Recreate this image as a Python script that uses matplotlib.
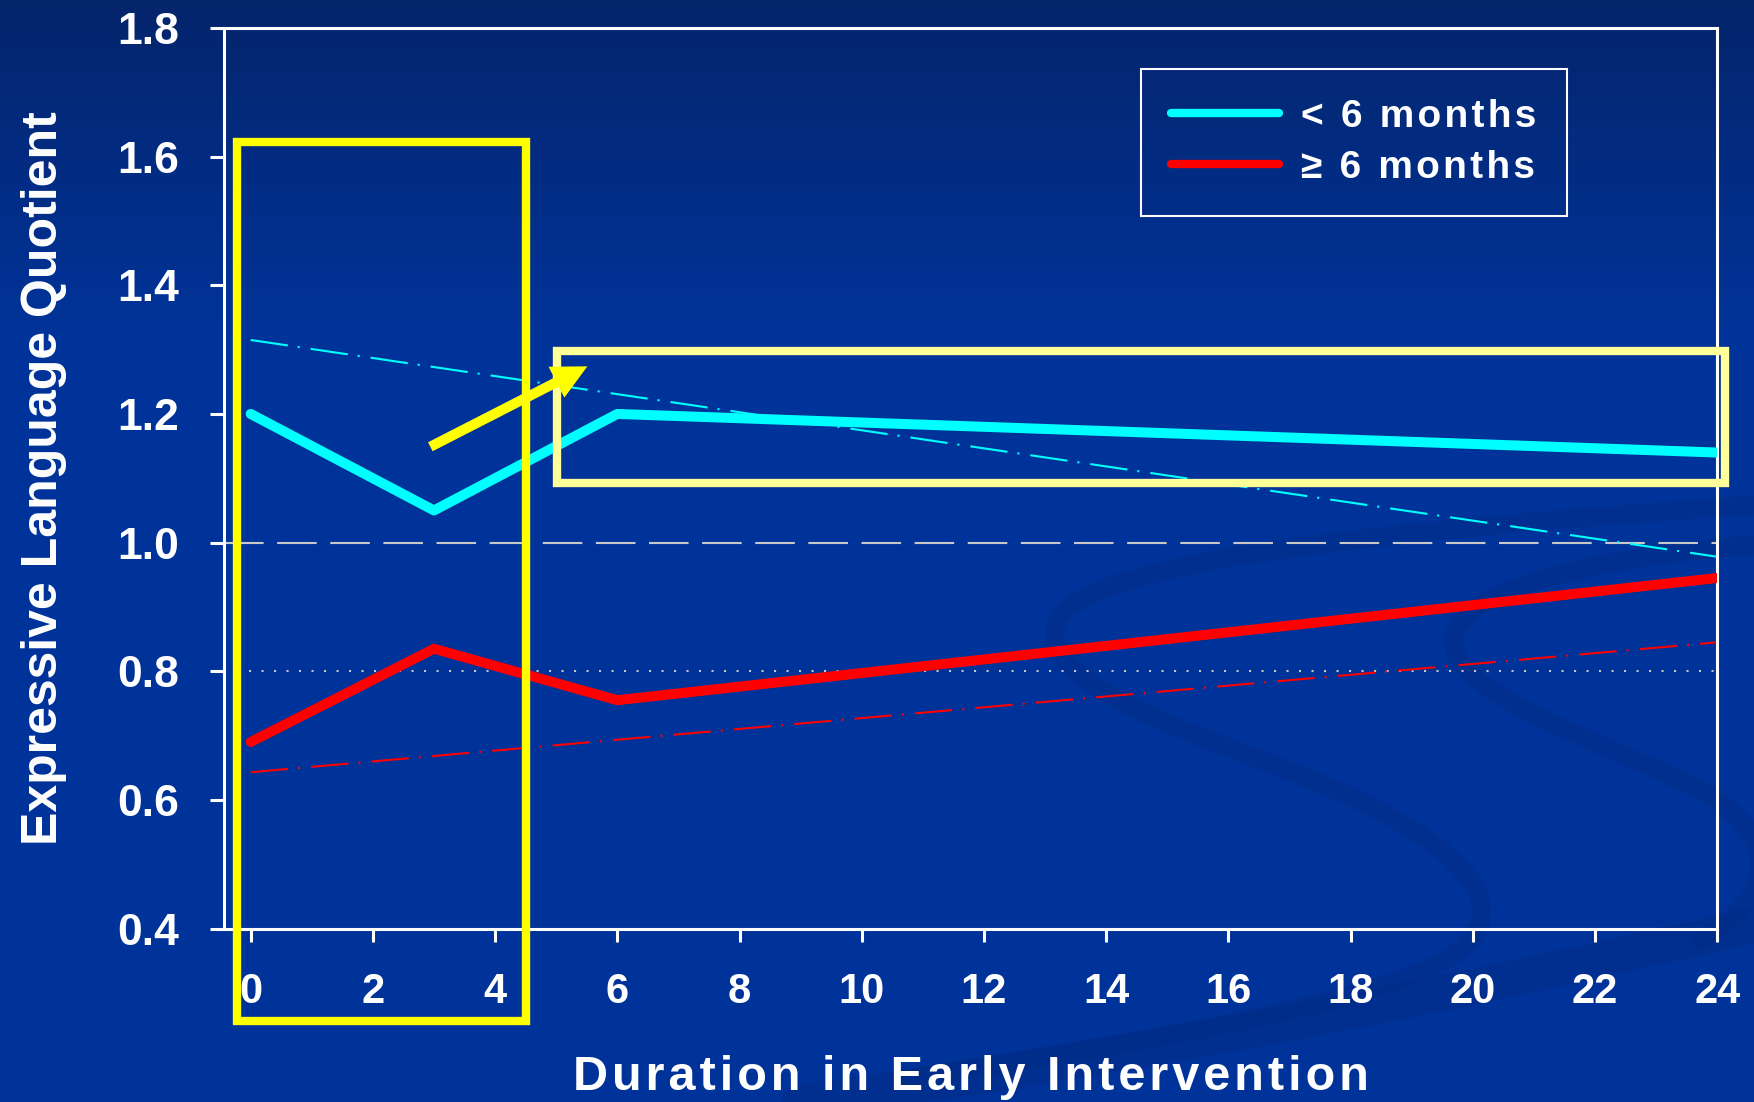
import numpy as np
import matplotlib.pyplot as plt
from matplotlib.path import Path
from matplotlib.patches import PathPatch, Rectangle, FancyArrowPatch
from matplotlib.colors import LinearSegmentedColormap
from matplotlib.lines import Line2D

# months in early intervention and expressive language quotient
months = [0, 3, 6, 24]
elq_under6 = [1.20, 1.05, 1.20, 1.14]
elq_over6 = [0.69, 0.835, 0.755, 0.945]

# linear trends (end points)
trend_months = [0, 24]
trend_under6 = [1.315, 0.978]
trend_over6 = [0.643, 0.845]

x_ticks = list(range(0, 25, 2))
y_ticks = [0.4, 0.6, 0.8, 1.0, 1.2, 1.4, 1.6, 1.8]
y_tick_labels = ['0.4', '0.6', '0.8', '1.0', '1.2', '1.4', '1.6', '1.8']

legend_labels = ['< 6 months', '\u2265 6 months']
xlabel = 'Duration in Early Intervention'
ylabel = 'Expressive Language Quotient'

# highlight boxes / arrow (data units)
box_start = (-0.22, 0.256, 4.72, 1.367)   # x, y, w, h
box_plateau = (5.01, 1.093, 19.12, 0.205)
arrow_tail = (2.94, 1.149)
arrow_tip = (5.51, 1.274)


def spaced(s, gap='\u200a'):
    # poor man's letter spacing
    return gap.join(s)


plt.rcParams['font.family'] = ['Liberation Sans', 'DejaVu Sans']
plt.rcParams['font.weight'] = 'bold'

W, H = 1754, 1102
fig = plt.figure(figsize=(W / 100, H / 100), dpi=100)

# background: dark navy at the top fading into royal blue
bg = fig.add_axes([0, 0, 1, 1], zorder=-10)
bg.set_axis_off()
cmap = LinearSegmentedColormap.from_list(
    'slide', [(0, '#05256c'), (0.30, '#003399'), (1, '#003399')])
grad = np.linspace(0, 1, 256).reshape(-1, 1)
bg.imshow(grad, aspect='auto', cmap=cmap, extent=[0, W, H, 0])
bg.set_xlim(0, W)
bg.set_ylim(H, 0)

# faint swirl ribbons in the lower right
swirls = [
    ([(1754, 505), (1400, 530), (1060, 560), (1055, 630),
      (1050, 690), (1200, 735), (1300, 775),
      (1450, 835), (1520, 900), (1460, 950),
      (1400, 1000), (1150, 1040), (900, 1080)], 14),
    ([(1754, 545), (1560, 560), (1440, 600), (1455, 650),
      (1470, 700), (1600, 740), (1700, 790),
      (1790, 840), (1770, 900), (1700, 940)], 14),
    ([(800, 1102), (1150, 1055), (1450, 995), (1754, 925)], 26),
]
for pts, width in swirls:
    codes = [Path.MOVETO] + [Path.CURVE4] * (len(pts) - 1)
    bg.add_patch(PathPatch(Path(pts, codes), facecolor='none',
                           edgecolor='#002a80', lw=width, alpha=0.35,
                           capstyle='round'))

ax = fig.add_axes([0.1276, 0.1574, 0.8514, 0.8172])
ax.set_facecolor('none')

# reference levels
ax.axhline(1.0, color='#c8c8c8', lw=1.5, dashes=(19, 6.5), zorder=1)
ax.axhline(0.8, color='#c8c8c8', lw=1.5, dashes=(1, 5), zorder=1)

# trend lines
ax.plot(trend_months, trend_under6, color='#00ffff', lw=1.5,
        dashes=(18, 4.8, 1, 5.3), zorder=2)
ax.plot(trend_months, trend_over6, color='#ff0000', lw=1.5,
        dashes=(18, 4.8, 1, 5.3), zorder=2)

ax.plot(months, elq_under6, color='#00ffff', lw=7.2,
        solid_capstyle='round', zorder=3)
ax.plot(months, elq_over6, color='#ff0000', lw=7.2,
        solid_capstyle='round', zorder=3)

ax.set_xlim(-0.44, 24)
ax.set_ylim(0.4, 1.8)
ax.set_xticks(x_ticks)
ax.set_xticklabels([str(v) for v in x_ticks],
                   family=['Liberation Sans Narrow', 'Liberation Sans'],
                   fontsize=30, fontweight='bold', color='white')
ax.set_yticks(y_ticks)
ax.set_yticklabels(y_tick_labels, fontsize=32, fontweight='bold',
                   color='white')
ax.tick_params(axis='x', direction='out', length=9, width=2.2,
               color='white', pad=22)
ax.tick_params(axis='y', direction='out', length=10, width=2.2,
               color='white', pad=22)
for sp in ax.spines.values():
    sp.set_color('white')
    sp.set_linewidth(2.2)

ax.set_xlabel(spaced(xlabel), fontsize=35, fontweight='bold',
              color='white', labelpad=31)
ax.set_ylabel(ylabel, fontsize=36, fontweight='bold', color='white',
              labelpad=36)

handles = [Line2D([], [], color='#00ffff', lw=6, solid_capstyle='round'),
           Line2D([], [], color='#ff0000', lw=6, solid_capstyle='round')]
leg = ax.legend(handles, [spaced(s) for s in legend_labels],
                loc='upper left', bbox_to_anchor=(0.614, 0.9545),
                fontsize=28, handlelength=2.78, handletextpad=0.58,
                labelspacing=0.39, borderpad=0.77, borderaxespad=0,
                fancybox=False, framealpha=1, facecolor='none',
                edgecolor='white')
leg.get_frame().set_linewidth(1.5)
for t in leg.get_texts():
    t.set_color('white')
    t.set_fontweight('bold')

# highlight boxes and arrow
ax.add_patch(Rectangle(box_start[:2], box_start[2], box_start[3],
                       fill=False, edgecolor='#ffff00', lw=6,
                       clip_on=False, zorder=5, joinstyle='miter'))
ax.add_patch(Rectangle(box_plateau[:2], box_plateau[2], box_plateau[3],
                       fill=False, edgecolor='#ffff99', lw=6,
                       clip_on=False, zorder=5, joinstyle='miter'))
ax.add_patch(FancyArrowPatch(arrow_tail, arrow_tip,
                             arrowstyle='simple,head_length=1,head_width=1,tail_width=0.29',
                             mutation_scale=25, color='#ffff00', lw=0,
                             shrinkA=0, shrinkB=0, clip_on=False, zorder=6))

fig.savefig('out.png', dpi=100, facecolor='#003399')
